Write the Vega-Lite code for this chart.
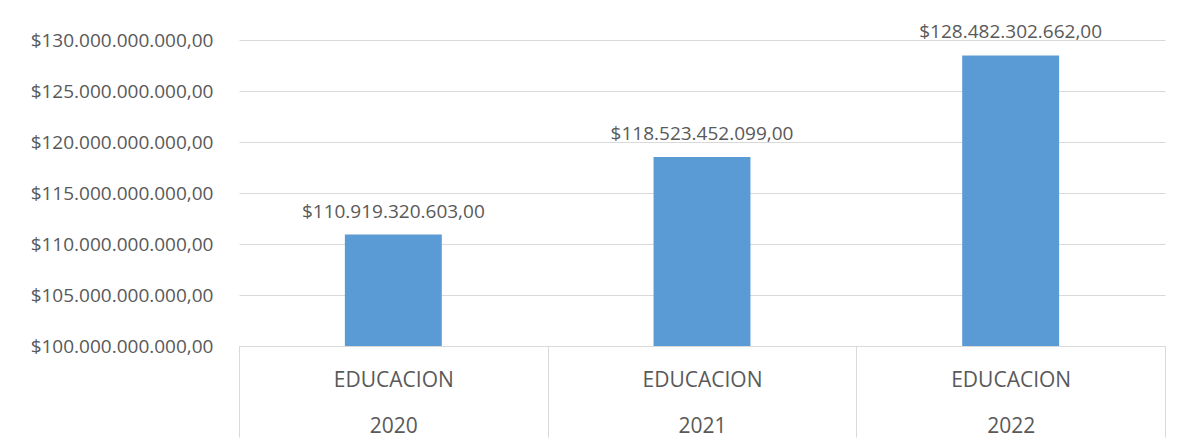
{
  "$schema": "https://vega.github.io/schema/vega-lite/v6.json",
  "width": 926,
  "height": 306,
  "autosize": {"type": "none"},
  "padding": {"left": 239, "top": 40, "right": 17, "bottom": 100},
  "config": {
    "locale": {"number": {"decimal": ",", "thousands": ".", "grouping": [3], "currency": ["$", ""]}},
    "view": {"stroke": null},
    "font": "Open Sans"
  },
  "data": {
    "values": [
      {"anio": "2020", "sector": "EDUCACION", "valor": 110919320603},
      {"anio": "2021", "sector": "EDUCACION", "valor": 118523452099},
      {"anio": "2022", "sector": "EDUCACION", "valor": 128482302662}
    ]
  },
  "encoding": {
    "x": {
      "field": "anio",
      "type": "nominal",
      "scale": {"paddingInner": 0, "paddingOuter": 0},
      "axis": {
        "title": null,
        "labelAngle": 0,
        "tickBand": "extent",
        "tickSize": 91,
        "tickColor": "#d9d9d9",
        "domainColor": "#d9d9d9",
        "labelExpr": "(datum.label == '2020' || datum.label == '2021' || datum.label == '2022') ? ['EDUCACION', datum.label] : ''",
        "labelLineHeight": 46,
        "labelPadding": -68,
        "labelFontSize": 21,
        "labelColor": "#595959",
        "labelBaseline": "top"
      }
    },
    "y": {
      "field": "valor",
      "type": "quantitative",
      "scale": {"domain": [100000000000, 130000000000], "zero": false, "nice": false},
      "axis": {
        "title": null,
        "values": [100000000000, 105000000000, 110000000000, 115000000000, 120000000000, 125000000000, 130000000000],
        "format": "$,.2f",
        "grid": true,
        "gridColor": "#d9d9d9",
        "domain": false,
        "ticks": false,
        "labelPadding": 26,
        "labelLimit": 400,
        "labelFontSize": 19,
        "labelColor": "#595959"
      }
    }
  },
  "layer": [
    {
      "mark": {"type": "bar", "color": "#5b9bd5", "width": {"band": 0.314}, "clip": true},
      "encoding": {"y2": {"datum": 100000000000}}
    },
    {
      "mark": {"type": "text", "baseline": "alphabetic", "dy": -17, "fontSize": 19, "color": "#595959"},
      "encoding": {"text": {"field": "valor", "type": "quantitative", "format": "$,.2f"}}
    }
  ]
}
